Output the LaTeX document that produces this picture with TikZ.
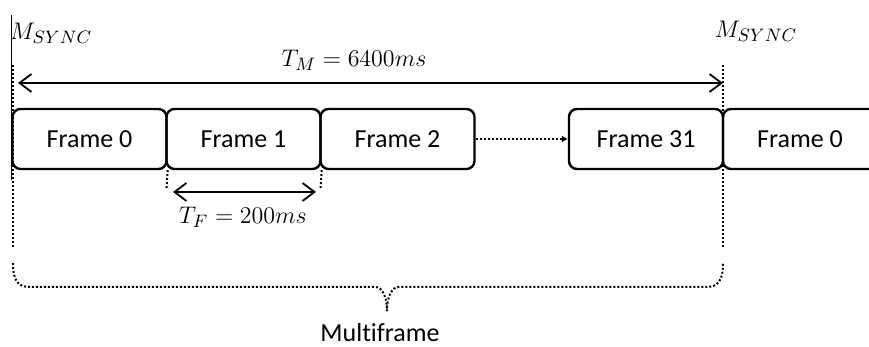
\documentclass[tikz,border=0pt]{standalone}
\usepackage{fontspec}
\setmainfont{Carlito}[Ligatures=CommonOff]
\usetikzlibrary{arrows.meta}
\tikzset{
    	every node/.append style={font=\fontsize{13}{15}\selectfont}}

\begin{document}
\begin{tikzpicture}
  [x=0.5pt, y=-0.5pt, >={Straight Barb[length=6pt,width=9pt]},
  	frame/.style={draw, line width=1.2pt, rounded corners=4pt,
  		minimum width=77pt, minimum height=30pt, inner sep=0pt},
  	dots/.style={line width=1pt, dash pattern=on 1pt off 1pt},
  	span/.style={<->, line width=0.9pt},
  	lbl/.style={inner sep=0pt, font=\fontsize{12.5}{14}\selectfont}
  ]
  \useasboundingbox (0,0) rectangle (869,347);
  \clip (0,0) rectangle (869,347);
  \node [frame] (f0) at (89.5,139) {Frame 0};
  \node [frame] (f1) at (243.5,139) {Frame 1};
  \node [frame] (f2) at (397.5,139) {Frame 2};
  \node [frame] (f31) at (646,139) {Frame 31};
  \node [frame] (g0) at (800,139) {Frame 0};
  \node [lbl] (ms1) at (51,33) {$M_{SYNC}$};
  \node [lbl] (ms2) at (756,31) {$M_{SYNC}$};
  \node [lbl] (tm) at (354,60) {$T_M = 6400ms$};
  \node [lbl] (tf) at (243,217) {$T_F = 200ms$};
  \node [inner sep=0pt] (mf) at (380,333) {Multiframe};
  \coordinate (sl) at (13,65);
  \coordinate (sl2) at (13,247);
  \coordinate (sr) at (723,65);
  \coordinate (sr2) at (723,247);
  \coordinate (al) at (18,83);
  \coordinate (ar) at (723,83);
  \coordinate (tl) at (173,192);
  \coordinate (tr) at (316,192);
  \coordinate (d1) at (166.5,190);
  \coordinate (d2) at (320.5,190);
  \coordinate (bl) at (13,263);
  \coordinate (br) at (723,263);
  \coordinate (tip) at (387,311);
  \draw [line width=0.5pt] (11,15) -- (11,180);
  \draw [dots] (sl) -- (sl2);
  \draw [dots] (sr) -- (sr2);
  \draw [span] (al) -- (ar);
  \draw [span] (tl) -- (tr);
  \draw [dots] (f0.south east) -- (d1);
  \draw [dots] (f1.south east) -- (d2);
  \draw [dots, -{Latex[length=3pt,width=3.5pt]}] (f2) -- (f31);
  \draw [dots] (bl) .. controls (13,281) and (18,287) .. (30,287) -- (375,287)
    .. controls (382,287) and (387,296) .. (tip)
    .. controls (387,296) and (392,287) .. (399,287) -- (706,287)
    .. controls (718,287) and (723,281) .. (br);
\end{tikzpicture}
\end{document}
